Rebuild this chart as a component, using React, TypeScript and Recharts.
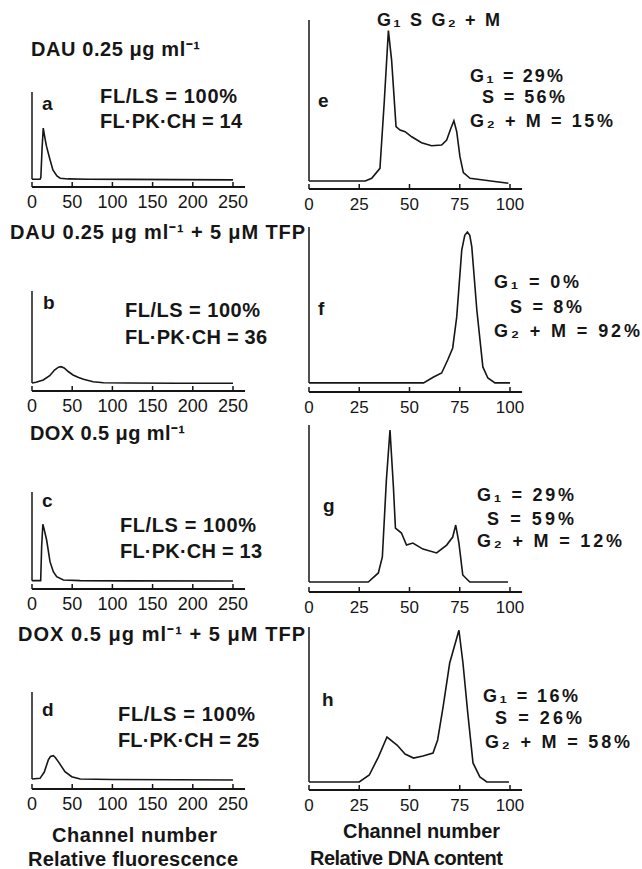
import { LineChart, Line, XAxis, YAxis, ReferenceLine } from "recharts";

const FONT = "'Liberation Sans', Arial, Helvetica, sans-serif";
const INK = "#161616";

// left column: relative fluorescence, channel 0-250
const aCh = [0, 10, 11, 12.5, 14, 16, 18, 22, 26, 31, 35, 45, 70, 120, 180, 250];
const aVal = [8.1, 8.1, 10, 40, 62, 52, 43, 30, 18, 11.6, 9.2, 8.5, 8.2, 8, 7.8, 7.5];

const bCh = [0, 5, 14, 22, 28, 33, 36, 40, 45, 51, 58, 64, 76, 89, 120, 180, 250];
const bVal = [8, 8.8, 11, 15.3, 21, 23.8, 24.3, 23, 19.5, 16, 13.5, 11.7, 9.3, 8.3, 8, 7.8, 7.7];

const cCh = [0, 10.8, 12, 13.5, 15, 18.2, 22.4, 26.5, 30.7, 39, 60, 120, 250];
const cVal = [8.6, 8.6, 43.6, 66.7, 62, 50.5, 28.2, 17.8, 12.7, 9.3, 8.6, 8.4, 8.2];

const dCh = [0, 10, 15.3, 20.3, 23, 26.5, 29, 32.7, 41, 49.4, 60, 100, 180, 250];
const dVal = [10.3, 11, 17.5, 30, 33.5, 34.3, 32.5, 28.2, 17.8, 12.7, 10.3, 9.8, 9.5, 9.3];

// right column: relative DNA content, channel 0-100
const eCh = [0, 28, 31.2, 35.3, 37.5, 39.5, 41.1, 43.3, 45.3, 47.8, 51.1, 56, 61, 66, 68.5, 70.6, 72.1, 73.5, 75.1, 76.8, 80.1, 86.7, 93.4, 99.2];
const eVal = [4.7, 4.7, 6.3, 12.2, 52.7, 93.7, 76.3, 36.9, 34.9, 33.9, 30.9, 27.4, 25.6, 26, 29, 35.9, 40.4, 33.9, 19.1, 9.7, 6.3, 5.3, 4.3, 3.4];

const fCh = [0, 57, 62, 66, 69, 71.5, 73.5, 76, 77.5, 78.8, 80, 81, 83.5, 86.5, 89, 92.5, 100];
const fVal = [5.5, 5.5, 9.1, 11.5, 19.4, 26.7, 45.5, 86, 95, 97, 95, 87.9, 49.7, 15.2, 8.5, 5.5, 5.5];

const gCh = [0, 29.5, 34.5, 36.5, 38.5, 40.3, 42, 43, 46, 48.5, 51.7, 56.7, 63.5, 68.5, 71.5, 73, 74.6, 76.5, 80, 99];
const gVal = [6, 6, 11.4, 21, 67, 97, 62.9, 38.3, 35.3, 28.1, 29.3, 25.7, 23.4, 28.1, 32.9, 40.1, 29.3, 10.2, 6, 6];

const hCh = [0, 25, 30, 34.5, 38.8, 43.8, 47.8, 52, 56.7, 61.7, 64, 66.7, 70, 74.6, 76.6, 79, 81.6, 85, 88.5, 99.5];
const hVal = [4.9, 4.9, 9.2, 20.2, 32.5, 27.6, 22.1, 19.6, 20.9, 22.7, 30.7, 50.9, 77.9, 98, 77.9, 47.2, 16.6, 8, 4.9, 4.9];

const leftTicks = [0, 50, 100, 150, 200, 250];
const rightTicks = [0, 25, 50, 75, 100];

const zip = (ch: number[], v: number[]) => ch.map((c, i) => ({ ch: c, v: v[i] }));

const PAD = 24;
const AXIS_H = 30;

function TickMark(props: any) {
  const { x, y, payload, fontSize } = props;
  return (
    <g>
      <line x1={x} x2={x} y1={y} y2={y - 5} stroke={INK} strokeWidth={1.5} />
      <text x={x} y={y + 21} textAnchor="middle" fontSize={fontSize} fontFamily={FONT} fill={INK}>
        {payload.value}
      </text>
    </g>
  );
}

type PanelProps = {
  data: { ch: number; v: number }[];
  x0: number;
  topY: number;
  axisY: number;
  pxPerUnit: number;
  domainMax: number;
  ticks: number[];
  baseVal: number;
  tickFont: number;
};

function Panel({ data, x0, topY, axisY, pxPerUnit, domainMax, ticks, baseVal, tickFont }: PanelProps) {
  const plotW = domainMax * pxPerUnit;
  const plotH = axisY - topY;
  return (
    <div style={{ position: "absolute", left: x0 - PAD, top: topY - PAD }}>
      <LineChart
        width={plotW + 2 * PAD}
        height={plotH + PAD + AXIS_H}
        data={data}
        margin={{ top: PAD, right: PAD, bottom: 0, left: PAD }}
      >
        <XAxis
          dataKey="ch"
          type="number"
          domain={[0, domainMax]}
          ticks={ticks}
          interval={0}
          height={AXIS_H}
          tickSize={0}
          tickMargin={0}
          tickLine={false}
          axisLine={{ stroke: INK, strokeWidth: 2 }}
          tick={<TickMark fontSize={tickFont} />}
        />
        <YAxis hide domain={[0, 100]} />
        <ReferenceLine
          segment={[{ x: 0, y: baseVal }, { x: 0, y: 100 }]}
          stroke={INK}
          strokeWidth={1.5}
          ifOverflow="visible"
        />
        <Line type="linear" dataKey="v" stroke={INK} strokeWidth={1.6} dot={false} isAnimationActive={false} />
      </LineChart>
    </div>
  );
}

function T({ x, y, size, w, children }: { x: number; y: number; size: number; w?: number; children: string }) {
  return (
    <text x={x} y={y} fontSize={size} fontFamily={FONT} fontWeight={700} fill={INK} textLength={w} lengthAdjust="spacing">
      {children}
    </text>
  );
}

const LEFT = { x0: 32, pxPerUnit: 0.804, domainMax: 265, ticks: leftTicks, tickFont: 18 };
const RIGHT = { x0: 309, pxPerUnit: 2.01, domainMax: 106, ticks: rightTicks, tickFont: 17 };

export default function App() {
  return (
    <div style={{ position: "absolute", left: 0, top: 0, width: 642, height: 869, background: "#fff" }}>
      <Panel {...LEFT} data={zip(aCh, aVal)} topY={92} axisY={187} baseVal={8.1} />
      <Panel {...LEFT} data={zip(bCh, bVal)} topY={291} axisY={391} baseVal={8} />
      <Panel {...LEFT} data={zip(cCh, cVal)} topY={492} axisY={589} baseVal={8.6} />
      <Panel {...LEFT} data={zip(dCh, dVal)} topY={692} axisY={789} baseVal={10.3} />
      <Panel {...RIGHT} data={zip(eCh, eVal)} topY={20} axisY={189} baseVal={4.7} />
      <Panel {...RIGHT} data={zip(fCh, fVal)} topY={227} axisY={392} baseVal={5.5} />
      <Panel {...RIGHT} data={zip(gCh, gVal)} topY={425} axisY={592} baseVal={6} />
      <Panel {...RIGHT} data={zip(hCh, hVal)} topY={627} axisY={790} baseVal={4.9} />

      <svg width={642} height={869} style={{ position: "absolute", left: 0, top: 0, pointerEvents: "none" }}>
        {/* treatment titles */}
        <T x={31} y={56} size={20} w={169}>DAU 0.25 μg ml⁻¹</T>
        <T x={10} y={239} size={20} w={295}>DAU 0.25 μg ml⁻¹ + 5 μM TFP</T>
        <T x={30} y={440} size={20} w={155}>DOX 0.5 μg ml⁻¹</T>
        <T x={18} y={641} size={20} w={287}>DOX 0.5 μg ml⁻¹ + 5 μM TFP</T>

        {/* left panel annotations */}
        <T x={42} y={110} size={19}>a</T>
        <T x={100} y={103} size={20} w={137}>FL/LS = 100%</T>
        <T x={100} y={128} size={20} w={142}>FL·PK·CH = 14</T>
        <T x={43} y={309} size={19}>b</T>
        <T x={125} y={317} size={20} w={135}>FL/LS = 100%</T>
        <T x={125} y={344} size={20} w={142}>FL·PK·CH = 36</T>
        <T x={42} y={507} size={19}>c</T>
        <T x={120} y={532} size={20} w={136}>FL/LS = 100%</T>
        <T x={120} y={558} size={20} w={142}>FL·PK·CH = 13</T>
        <T x={42} y={716} size={19}>d</T>
        <T x={118} y={721} size={20} w={137}>FL/LS = 100%</T>
        <T x={118} y={747} size={20} w={141}>FL·PK·CH = 25</T>

        {/* right panel annotations */}
        <T x={377} y={26} size={18} w={123}>G₁ S G₂ + M</T>
        <T x={318} y={107} size={19}>e</T>
        <T x={470} y={82} size={18} w={93}>G₁ = 29%</T>
        <T x={482} y={103} size={18} w={83}>S = 56%</T>
        <T x={470} y={127} size={18} w={143}>G₂ + M = 15%</T>
        <T x={318} y={315} size={19}>f</T>
        <T x={494} y={288} size={18} w={85}>G₁ = 0%</T>
        <T x={510} y={313} size={18} w={72}>S = 8%</T>
        <T x={494} y={337} size={18} w={146}>G₂ + M = 92%</T>
        <T x={323} y={512} size={19}>g</T>
        <T x={477} y={501} size={18} w={97}>G₁ = 29%</T>
        <T x={487} y={525} size={18} w={87}>S = 59%</T>
        <T x={477} y={547} size={18} w={145}>G₂ + M = 12%</T>
        <T x={322} y={706} size={19}>h</T>
        <T x={483} y={702} size={18} w={95}>G₁ = 16%</T>
        <T x={495} y={724} size={18} w={87}>S = 26%</T>
        <T x={485} y={748} size={18} w={145}>G₂ + M = 58%</T>

        {/* axis captions */}
        <T x={52} y={842} size={20} w={165}>Channel number</T>
        <T x={28} y={866} size={20} w={210}>Relative fluorescence</T>
        <T x={343} y={838} size={20} w={157}>Channel number</T>
        <T x={310} y={865} size={20} w={193}>Relative DNA content</T>
      </svg>
    </div>
  );
}
